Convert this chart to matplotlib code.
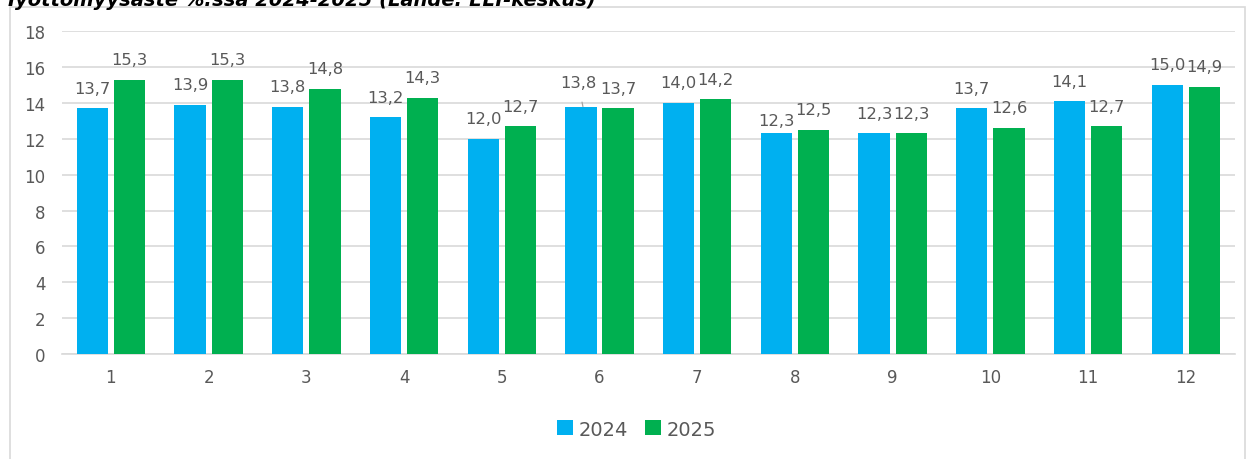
import numpy as np
import matplotlib.pyplot as plt
from matplotlib.patches import Rectangle

# Työttömyysaste kuukausittain
months = [str(m) for m in range(1, 13)]
values_2024 = [13.7, 13.9, 13.8, 13.2, 12.0, 13.8, 14.0, 12.3, 12.3, 13.7, 14.1, 15.0]
values_2025 = [15.3, 15.3, 14.8, 14.3, 12.7, 13.7, 14.2, 12.5, 12.3, 12.6, 12.7, 14.9]
series_names = ['2024', '2025']
title = 'Työttömyysaste %:ssa 2024-2025 (Lähde: ELY-keskus)'

blue = '#00B0F0'
green = '#00B050'
grey_text = '#595959'
grid_col = '#D9D9D9'

fig = plt.figure(figsize=(12.51, 4.60), dpi=100)
ax = fig.add_axes([0.0496, 0.228, 0.9374, 0.702])

# chart border
fig.patches.append(Rectangle((10 / 1251, -0.01), 1235 / 1251, 1 - 8 / 460 + 0.01,
                             transform=fig.transFigure, fill=False,
                             edgecolor='#D9D9D9', linewidth=1.2))

x = np.arange(1, len(months) + 1)
w = 0.32
off = 0.19
b1 = ax.bar(x - off, values_2024, w, color=blue, label=series_names[0], zorder=3)
b2 = ax.bar(x + off, values_2025, w, color=green, label=series_names[1], zorder=3)


def fmt(v):
    return f'{v:.1f}'.replace('.', ',')


lab_kw = dict(ha='center', va='center', fontsize=11.8, color=grey_text)
for i, (xi, v) in enumerate(zip(x - off, values_2024)):
    if i == 5:
        # label lifted with a leader line
        ax.annotate(fmt(v), xy=(xi + 0.02, v), xytext=(xi - 0.03, v + 1.35),
                    arrowprops=dict(arrowstyle='-', color='#A6A6A6', lw=0.9,
                                    shrinkA=7, shrinkB=0), **lab_kw)
    elif i == 7:
        ax.text(xi, v + 0.7, fmt(v), **lab_kw)
    else:
        ax.text(xi, v + 1.12, fmt(v), **lab_kw)
for xi, v in zip(x + off, values_2025):
    ax.text(xi, v + 1.12, fmt(v), **lab_kw)

ax.set_xlim(0.5, 12.5)
ax.set_ylim(0, 18)
ax.set_yticks(np.arange(0, 19, 2))
ax.set_xticks(x)
ax.set_xticklabels(months)
ax.tick_params(axis='both', length=0, labelsize=12, labelcolor=grey_text)
ax.tick_params(axis='x', pad=10)
ax.tick_params(axis='y', pad=12)
ax.yaxis.grid(True, color=grid_col, linewidth=1.2, zorder=0)
for s in ['top', 'right', 'left']:
    ax.spines[s].set_visible(False)
ax.spines['bottom'].set_color(grid_col)
ax.spines['bottom'].set_linewidth(1.2)

fig.legend(handles=[b1, b2], loc='center', bbox_to_anchor=(0.509, 0.065), ncol=2,
           frameon=False, fontsize=14, labelcolor=grey_text, handlelength=0.8,
           handleheight=0.8, handletextpad=0.3, columnspacing=0.9)

fig.text(5 / 1251, 1.0, title, ha='left', va='center', fontsize=14,
         fontweight='bold', fontstyle='italic', color='black')

fig.savefig('out.png', dpi=100)
